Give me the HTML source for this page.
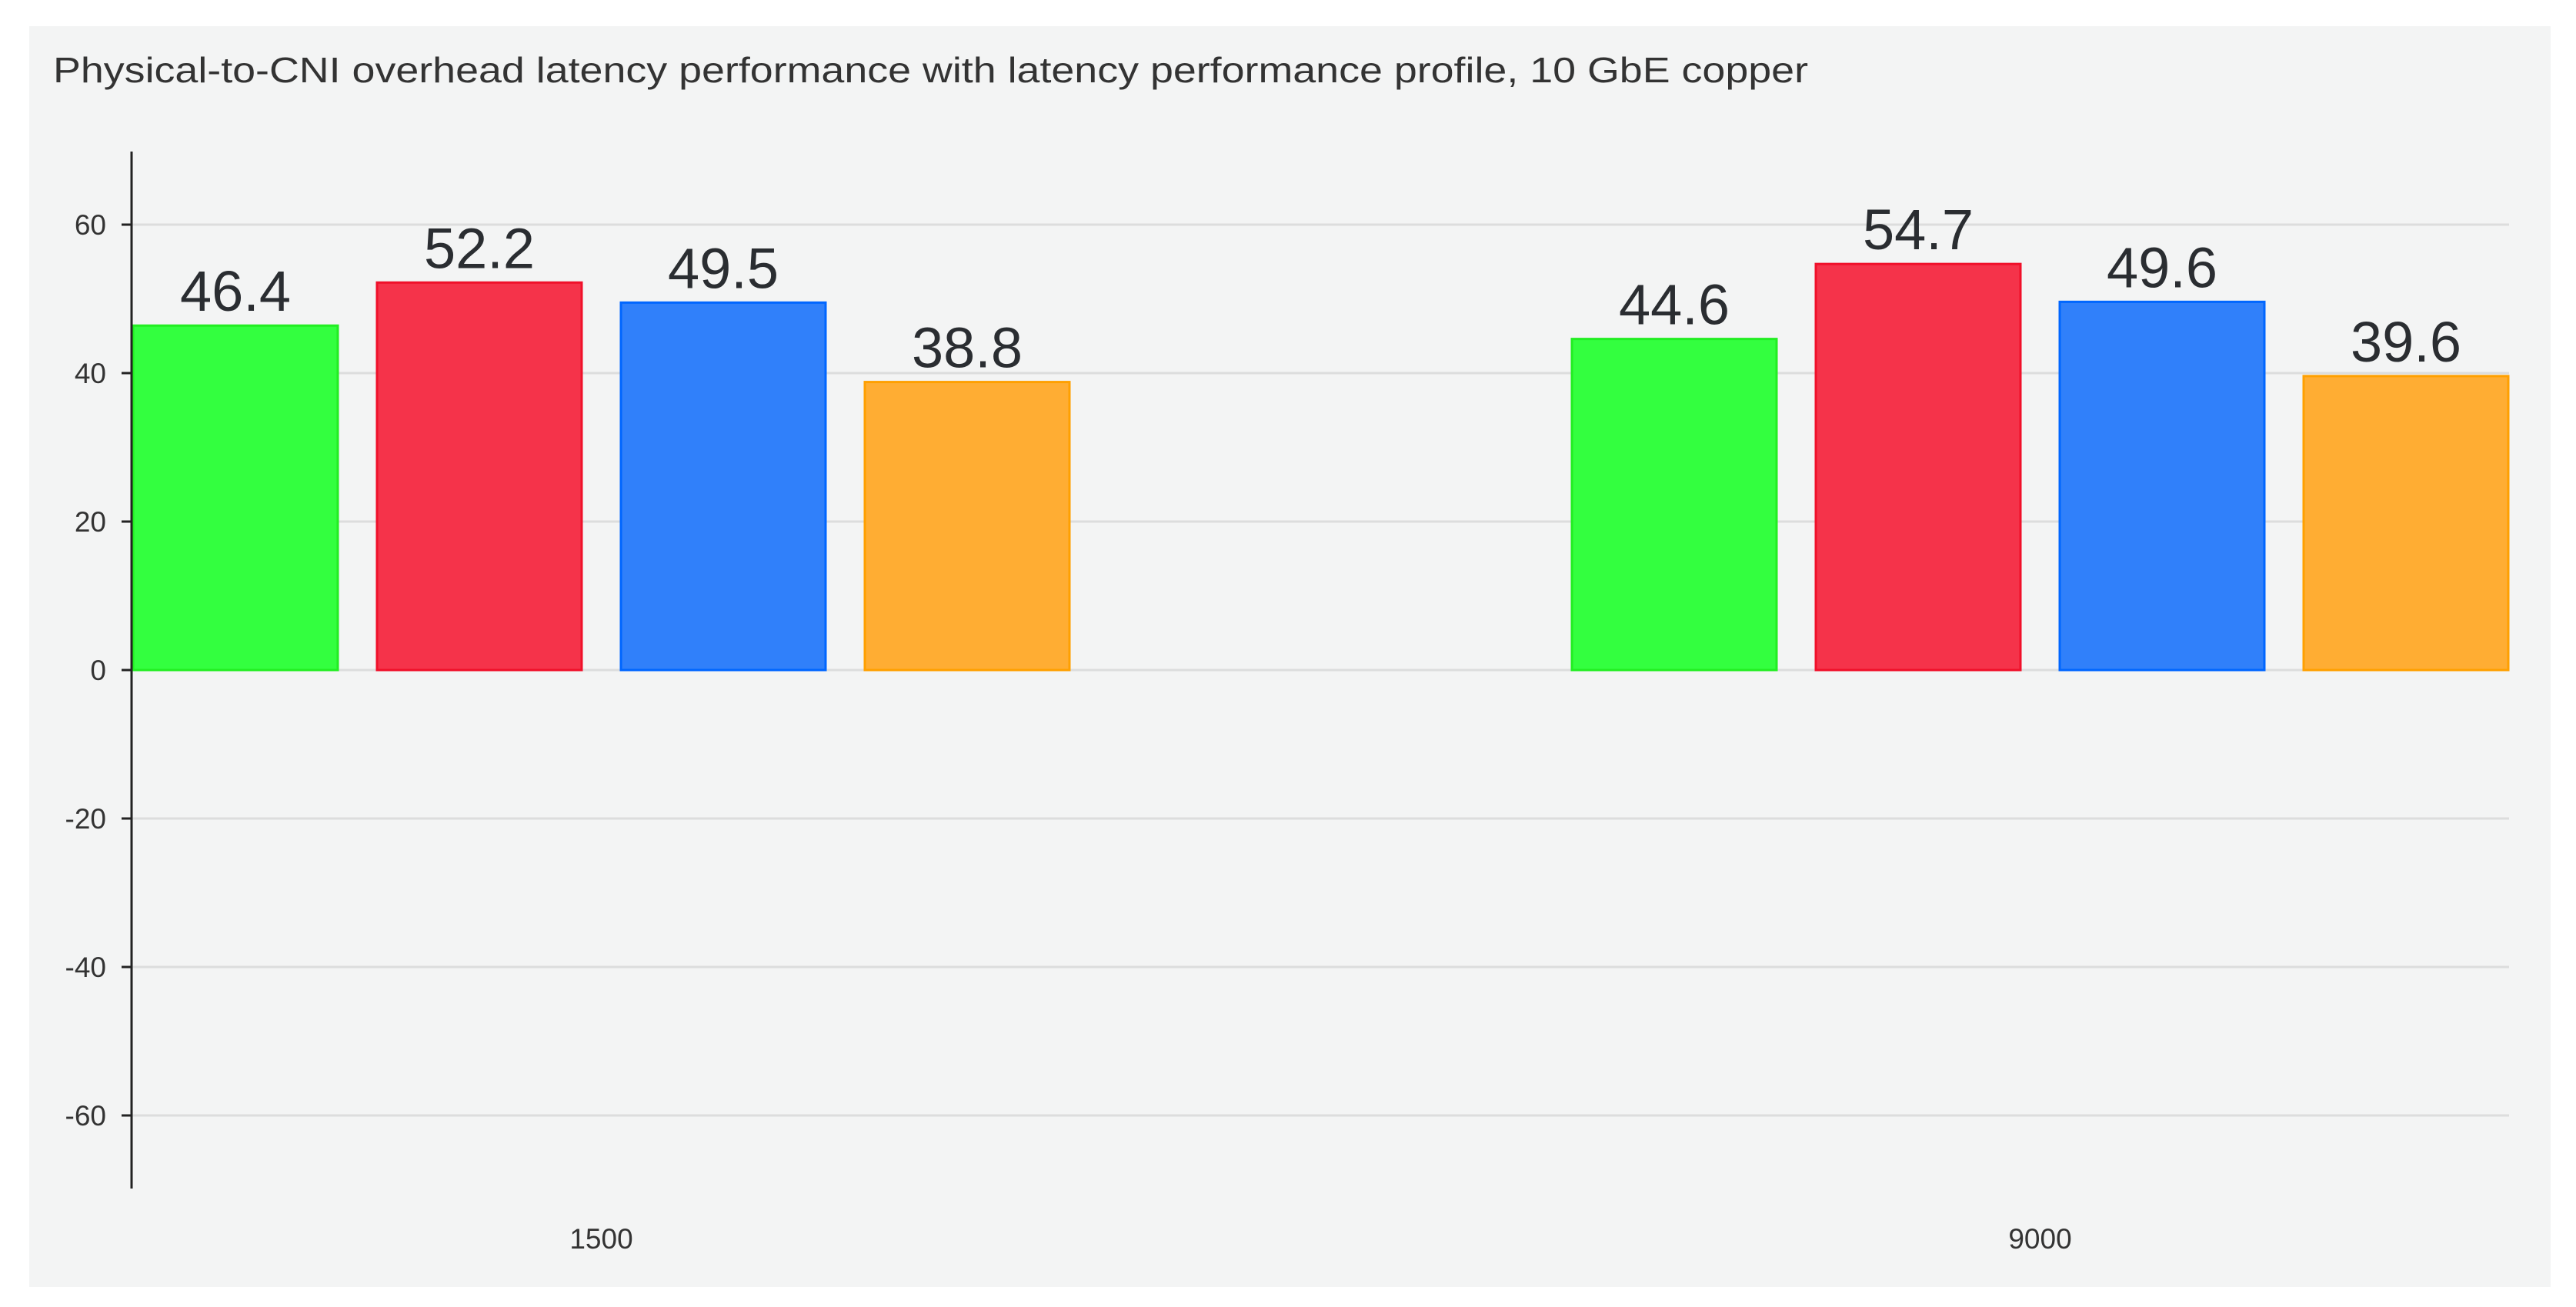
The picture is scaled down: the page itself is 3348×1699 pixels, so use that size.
<!DOCTYPE html>
<html><head><meta charset="utf-8"><style>
html,body{margin:0;padding:0;background:#fff;}
svg{display:block;font-family:"Liberation Sans",sans-serif;}
</style></head><body>
<svg id="chart" width="3348" height="1699" viewBox="0 0 3348 1699">
<rect x="38" y="34" width="3277" height="1639" fill="#f3f4f4"/>
<text x="69" y="107" font-size="46" fill="#333" textLength="2281" lengthAdjust="spacingAndGlyphs">Physical-to-CNI overhead latency performance with latency performance profile, 10 GbE copper</text>
<g id="grid"></g><g id="bars"></g><g id="axes"></g>
</svg>
<script>
const categories = ["1500", "9000"];
const seriesA = [46.4, 44.6];
const seriesB = [52.2, 54.7];
const seriesC = [49.5, 49.6];
const seriesD = [38.8, 39.6];
const yTicks = [60, 40, 20, 0, -20, -40, -60];

const NS = "http://www.w3.org/2000/svg";
const series = [seriesA, seriesB, seriesC, seriesD];
const fills = ["#33ff3f", "#f5334a", "#3080fa", "#ffad33"];
const strokes = ["#22ee22", "#f0102a", "#0066ff", "#ffa000"];
const plotL = 171, plotR = 3261, zeroY = 871, pxPerUnit = 9.65;
function y(v){ return zeroY - v * pxPerUnit; }
function groupX(i){ return 173 + i * 1870; }
const barStep = 317, barW = 266;
function barX(i, s){ return groupX(i) + s * barStep; }
function mk(tag, attrs, parent){ const e = document.createElementNS(NS, tag); for (const k in attrs) e.setAttribute(k, attrs[k]); parent.appendChild(e); return e; }

const grid = document.getElementById('grid'), bars = document.getElementById('bars'), axes = document.getElementById('axes');
yTicks.forEach(t => {
  const g = mk('line', {x1: plotL, x2: plotR, y1: y(t), y2: y(t), stroke: '#dcdddd', 'stroke-width': 3}, grid);
  
  
  const tk = mk('line', {x1: 158, x2: plotL, y1: y(t), y2: y(t), stroke: '#222', 'stroke-width': 3}, axes);
  
  
  const lb = mk('text', {x: 138, y: y(t) + 13, 'font-size': 37, fill: '#333', 'text-anchor': 'end'}, axes);
  lb.textContent = String(t);
  
  
});
const ax = mk('line', {x1: plotL, x2: plotL, y1: 197, y2: 1545, stroke: '#222', 'stroke-width': 3}, axes);



categories.forEach((c, i) => {
  series.forEach((arr, s) => {
    const v = arr[i];
    const r = mk('rect', {x: barX(i, s), y: Math.min(y(v), zeroY), width: barW, height: Math.abs(y(v) - zeroY), fill: fills[s], stroke: strokes[s], 'stroke-width': 3}, bars);
    
    
    const t = mk('text', {x: barX(i, s) + barW / 2, y: y(v) - 19, 'font-size': 74, fill: '#2a2d31', 'text-anchor': 'middle'}, bars);
    t.textContent = v.toFixed(1);
    
    
  });
  const cl = mk('text', {x: groupX(i) + (3 * barStep + barW) / 2, y: 1623, 'font-size': 37, fill: '#333', 'text-anchor': 'middle'}, axes);
  cl.textContent = c;
  
  
});
</script>
</body></html>
